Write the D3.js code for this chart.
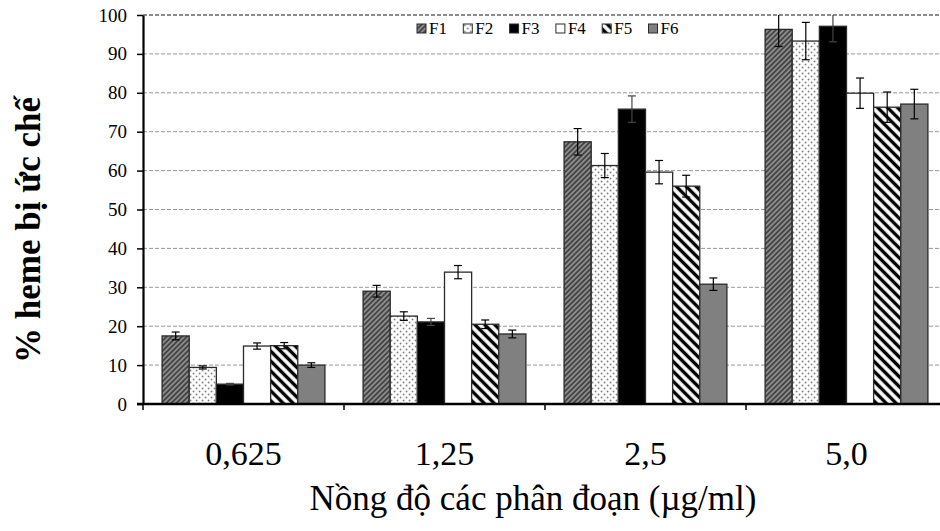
<!DOCTYPE html>
<html>
<head>
<meta charset="utf-8">
<script src="https://cdn.jsdelivr.net/npm/d3@7"></script>
<style>
  body { margin: 0; background: #fff; }
  svg { display: block; font-family: "Liberation Serif", "Times New Roman", serif; }
</style>
</head>
<body>
<div id="wrapper"></div>
<script>
// data
var categories = ["0,625", "1,25", "2,5", "5,0"];
var series = ["F1", "F2", "F3", "F4", "F5", "F6"];
var F1 = [17.5, 29.0, 67.4, 96.3];
var F2 = [9.4, 22.6, 61.3, 93.3];
var F3 = [5.1, 21.1, 75.8, 97.1];
var F4 = [14.9, 33.9, 59.6, 79.9];
var F5 = [15.0, 20.5, 56.0, 76.3];
var F6 = [10.0, 18.0, 30.8, 77.1];
var errF1 = [1.0, 1.5, 3.4, 4.4];
var errF2 = [0.4, 1.1, 3.1, 4.8];
var errF3 = [0.2, 0.9, 3.4, 4.0];
var errF4 = [0.8, 1.7, 3.0, 3.9];
var errF5 = [0.8, 1.1, 2.8, 3.9];
var errF6 = [0.6, 1.0, 1.6, 3.8];
var yTicks = [0, 10, 20, 30, 40, 50, 60, 70, 80, 90, 100];

var values = { F1: F1, F2: F2, F3: F3, F4: F4, F5: F5, F6: F6 };
var errors = { F1: errF1, F2: errF2, F3: errF3, F4: errF4, F5: errF5, F6: errF6 };

var width = 940, height = 531;
var mLeft = 143, mRight = 947, mTop = 15, mBottom = 404;

const svg = d3.select('#wrapper').append('svg')
  .attr('width', width)
  .attr('height', height)
  .attr('viewBox', [0, 0, width, height]);

// fill patterns
const defs = svg.append('defs');
const p1 = defs.append('pattern').attr('id', 'pF1')
  .attr('patternUnits', 'userSpaceOnUse').attr('width', 3.6).attr('height', 3.6)
  .attr('patternTransform', 'rotate(45)');
p1.append('rect').attr('width', 3.6).attr('height', 3.6).attr('fill', '#444');
p1.append('line').attr('x1', 1.8).attr('x2', 1.8).attr('y1', 0).attr('y2', 3.6)
  .attr('stroke', '#b0b0b0').attr('stroke-width', 1.2);

const p2 = defs.append('pattern').attr('id', 'pF2')
  .attr('patternUnits', 'userSpaceOnUse').attr('width', 6).attr('height', 6);
p2.append('rect').attr('width', 6).attr('height', 6).attr('fill', '#fff');
p2.append('circle').attr('cx', 1.5).attr('cy', 1.5).attr('r', 0.9).attr('fill', '#777');
p2.append('circle').attr('cx', 4.5).attr('cy', 4.5).attr('r', 0.9).attr('fill', '#777');

const p5 = defs.append('pattern').attr('id', 'pF5')
  .attr('patternUnits', 'userSpaceOnUse').attr('width', 7).attr('height', 7)
  .attr('patternTransform', 'rotate(-45)');
p5.append('rect').attr('width', 7).attr('height', 7).attr('fill', '#fff');
p5.append('line').attr('x1', 3.5).attr('x2', 3.5).attr('y1', 0).attr('y2', 7)
  .attr('stroke', '#000').attr('stroke-width', 3.4);

defs.append('clipPath').attr('id', 'plotClip')
  .append('rect').attr('x', mLeft).attr('y', mTop).attr('width', mRight - mLeft).attr('height', mBottom - mTop);

var fills = { F1: 'url(#pF1)', F2: 'url(#pF2)', F3: '#000', F4: '#fff', F5: 'url(#pF5)', F6: '#808080' };

// scales
const x0 = d3.scaleBand().domain(categories).range([mLeft, mRight]).paddingInner(0.19).paddingOuter(0.095);
const x1 = d3.scaleBand().domain(series).range([0, x0.bandwidth()]);
const y = d3.scaleLinear().domain([0, 100]).range([mBottom, mTop]);

// gridlines
svg.append('g').selectAll('line')
  .data(yTicks.filter(d => d > 0))
  .join('line')
  .attr('x1', mLeft).attr('x2', width)
  .attr('y1', d => y(d)).attr('y2', d => y(d))
  .attr('stroke', d => d === 100 ? '#666' : '#999')
  .attr('stroke-width', d => d === 100 ? 1.5 : 1)
  .attr('stroke-dasharray', '4,2');

// bars
const plot = svg.append('g').attr('clip-path', 'url(#plotClip)');
const groups = plot.selectAll('g.grp')
  .data(categories)
  .join('g')
  .attr('class', 'grp')
  .attr('transform', d => `translate(${x0(d)},0)`);

groups.selectAll('rect')
  .data((c, i) => series.map(s => ({ s: s, v: values[s][i], e: errors[s][i] })))
  .join('rect')
  .attr('x', d => x1(d.s))
  .attr('y', d => y(d.v))
  .attr('width', x1.bandwidth())
  .attr('height', d => y(0) - y(d.v))
  .attr('fill', d => fills[d.s])
  .attr('stroke', '#2a2a2a')
  .attr('stroke-width', 1.3);

// error bars
const eb = groups.selectAll('g.err')
  .data((c, i) => series.map(s => ({ s: s, v: values[s][i], e: errors[s][i] })))
  .join('g')
  .attr('class', 'err')
  .attr('stroke', d => d.s === 'F3' ? '#444' : '#000')
  .attr('stroke-width', 1.2);
eb.append('line')
  .attr('x1', d => x1(d.s) + x1.bandwidth() / 2)
  .attr('x2', d => x1(d.s) + x1.bandwidth() / 2)
  .attr('y1', d => y(d.v - d.e)).attr('y2', d => y(d.v + d.e));
eb.append('line')
  .attr('x1', d => x1(d.s) + x1.bandwidth() / 2 - 4)
  .attr('x2', d => x1(d.s) + x1.bandwidth() / 2 + 4)
  .attr('y1', d => y(d.v + d.e)).attr('y2', d => y(d.v + d.e));
eb.append('line')
  .attr('x1', d => x1(d.s) + x1.bandwidth() / 2 - 4)
  .attr('x2', d => x1(d.s) + x1.bandwidth() / 2 + 4)
  .attr('y1', d => y(d.v - d.e)).attr('y2', d => y(d.v - d.e));

// y axis
const yAxis = svg.append('g')
  .attr('transform', `translate(${mLeft},0)`)
  .call(d3.axisLeft(y).tickValues(yTicks).tickSize(6).tickPadding(10).tickSizeOuter(0));
yAxis.select('.domain').attr('stroke', '#000').attr('stroke-width', 2.2);
yAxis.selectAll('.tick line').attr('stroke', '#000').attr('stroke-width', 1.5);
yAxis.selectAll('text')
  .style('font-family', '"Liberation Serif", serif')
  .style('font-size', '19px')
  .attr('fill', '#000');

// x axis
svg.append('line')
  .attr('x1', mLeft - 6).attr('x2', width)
  .attr('y1', mBottom).attr('y2', mBottom)
  .attr('stroke', '#000').attr('stroke-width', 2.5);
svg.append('g').selectAll('line')
  .data(d3.range(categories.length + 1))
  .join('line')
  .attr('x1', i => mLeft + i * x0.step()).attr('x2', i => mLeft + i * x0.step())
  .attr('y1', mBottom).attr('y2', mBottom + 6)
  .attr('stroke', '#000').attr('stroke-width', 1.5);
svg.append('g').selectAll('text')
  .data(categories)
  .join('text')
  .attr('x', d => x0(d) + x0.bandwidth() / 2)
  .attr('y', 465)
  .attr('text-anchor', 'middle')
  .style('font-size', '34px')
  .text(d => d);

// titles
svg.append('text')
  .attr('transform', 'translate(40,230) rotate(-90)')
  .attr('text-anchor', 'middle')
  .style('font-size', '35px')
  .style('font-weight', 'bold')
  .text('% heme bị ức chế');
svg.append('text')
  .attr('x', 533).attr('y', 510)
  .attr('text-anchor', 'middle')
  .style('font-size', '35px')
  .text('Nồng độ các phân đoạn (µg/ml)');

// legend
const legend = svg.append('g').attr('transform', 'translate(417,24)');
const li = legend.selectAll('g')
  .data(series)
  .join('g')
  .attr('transform', (d, i) => `translate(${i * 46.3},0)`);
li.append('rect')
  .attr('width', 9).attr('height', 9)
  .attr('fill', d => fills[d])
  .attr('stroke', '#2a2a2a').attr('stroke-width', 1);
li.append('text')
  .attr('x', 12).attr('y', 10)
  .style('font-size', '17px')
  .text(d => d);
</script>
</body>
</html>
